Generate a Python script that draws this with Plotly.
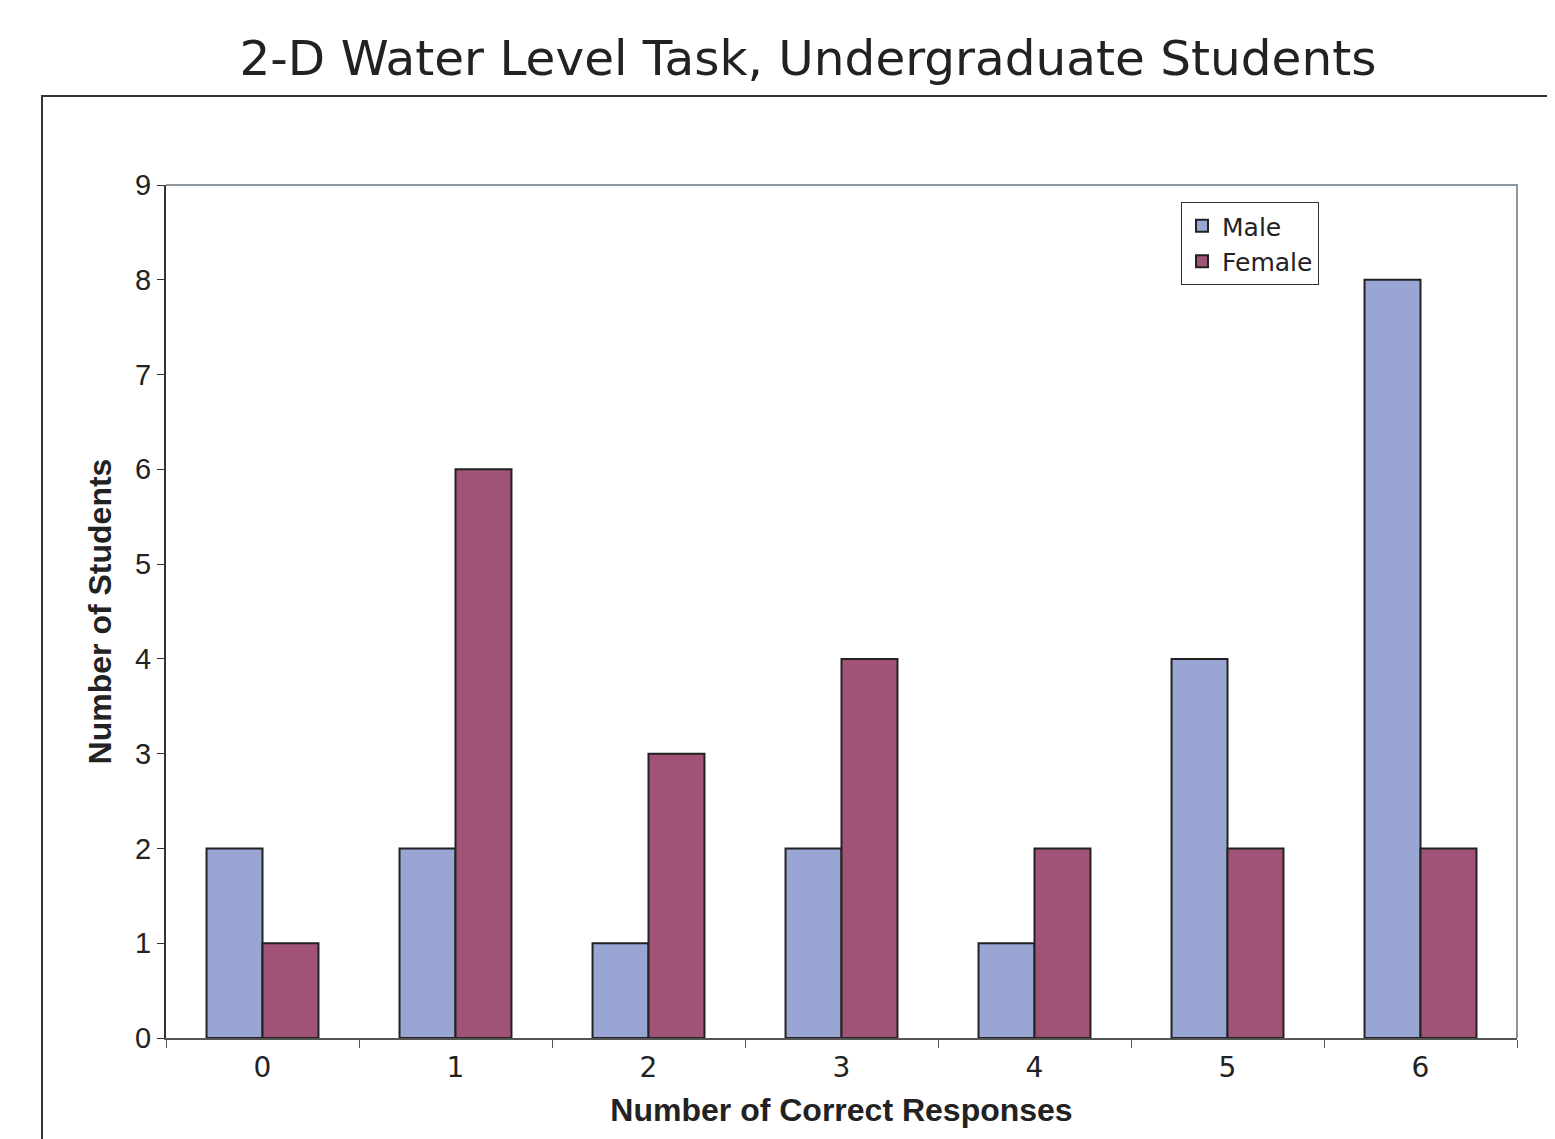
import plotly.graph_objects as go

# data
responses = ["0", "1", "2", "3", "4", "5", "6"]
male = [2, 2, 1, 2, 1, 4, 8]
female = [1, 6, 3, 4, 2, 2, 2]

# the page body adds an 8px margin, so the figure is drawn 8px smaller
OFF = 8
W, H = 1555 - OFF, 1139 - OFF
L, R, T, B = 166 - OFF, 38, 185 - OFF, 101
pw, ph = W - L - R, H - T - B


def px(x):
    # screen x -> paper fraction
    return (x - OFF - L) / pw


def py(y):
    # screen y -> paper fraction
    return (H - B - (y - OFF)) / ph


fig = go.Figure()
fig.add_trace(go.Bar(x=responses, y=male, name="Male",
                     marker=dict(color="#99A6D4", line=dict(color="#222222", width=2))))
fig.add_trace(go.Bar(x=responses, y=female, name="Female",
                     marker=dict(color="#A05377", line=dict(color="#222222", width=2))))

# outer frame, cut by the page edge
fig.add_shape(type="path", xref="paper", yref="paper",
              path=f"M {px(42)} {py(1150)} L {px(42)} {py(96)} L {px(1565)} {py(96)}",
              line=dict(color="#333333", width=2))
# gray top / right border of the plot area
fig.add_shape(type="path", xref="paper", yref="paper",
              path="M 0 1 L 1 1 L 1 0",
              line=dict(color="#8C969E", width=2))

fig.update_layout(
    width=W, height=H,
    margin=dict(l=L, r=R, t=T, b=B),
    plot_bgcolor="white", paper_bgcolor="white",
    barmode="group", bargap=0.42, bargroupgap=0,
    font=dict(family="DejaVu Sans", color="#222222"),
    title=dict(text="2-D Water Level Task, Undergraduate Students",
               x=(808 - OFF) / W, xanchor="center", y=1 - (58 - OFF) / H, yanchor="middle",
               font=dict(size=48.5, family="DejaVu Sans", color="#222222")),
    xaxis=dict(title=dict(text="<b>Number of Correct Responses</b>", standoff=16,
                          font=dict(size=32, family="Liberation Sans")),
               showline=True, linecolor="#555555", linewidth=2,
               ticks="outside", ticklen=8, tickcolor="#555555", tickwidth=1,
               tickson="boundaries", showgrid=False, ticklabelstandoff=3,
               tickfont=dict(size=28, family="DejaVu Sans")),
    yaxis=dict(title=dict(text="<b>Number of Students</b>", standoff=14,
                          font=dict(size=32, family="Liberation Sans")),
               range=[0, 9], dtick=1, showgrid=False, zeroline=False,
               showline=True, linecolor="#333333", linewidth=2,
               ticks="outside", ticklen=7, tickcolor="#333333",
               tickfont=dict(size=29, family="Liberation Sans")),
    legend=dict(x=px(1181), y=py(202), xanchor="left", yanchor="top",
                bordercolor="#333333", borderwidth=1, bgcolor="white",
                font=dict(size=25, family="DejaVu Sans"),
                itemwidth=30, tracegroupgap=0),
)

fig.write_html("out.html")
